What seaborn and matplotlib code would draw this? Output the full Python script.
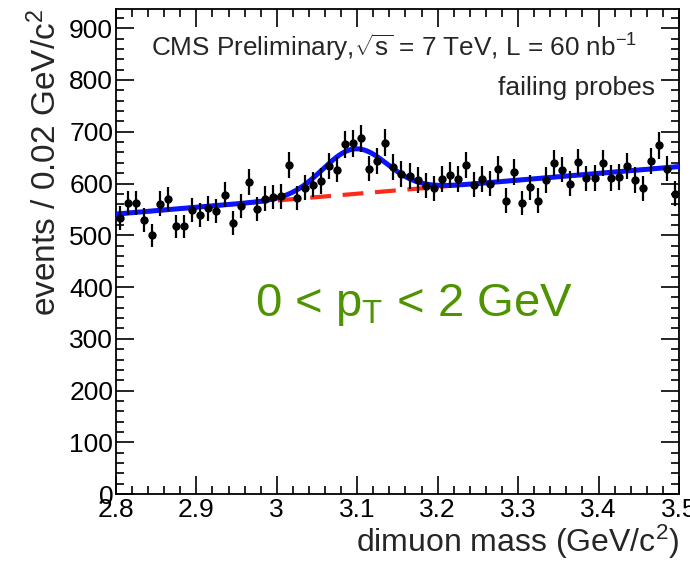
import numpy as np
import pandas as pd
import matplotlib
matplotlib.use("Agg")
import matplotlib.pyplot as plt
from matplotlib.ticker import MultipleLocator
import seaborn as sns

# ---- data ----
mass = [round(2.805 + 0.01 * i, 3) for i in range(70)]
events = [533, 562, 562, 530, 500, 561, 570, 517, 517, 549,
          539, 552, 547, 578, 524, 556, 603, 551, 571, 574,
          575, 636, 572, 592, 598, 605, 634, 627, 676, 678,
          687, 629, 644, 679, 632, 618, 614, 607, 596, 591,
          609, 616, 609, 636, 598, 609, 600, 628, 567, 622,
          562, 593, 567, 607, 640, 627, 600, 641, 610, 611,
          640, 611, 613, 633, 607, 591, 644, 674, 629, 580]
errors = list(np.sqrt(events))

# fit parameters (linear background + gaussian signal)
bg_at_28 = 541.0
bg_slope = 131.0
sig_amp = 87.0
sig_mean = 3.097
sig_width = 0.040

sns.set_style("ticks")
plt.rcParams["font.family"] = ["Liberation Sans", "DejaVu Sans"]
plt.rcParams["mathtext.fontset"] = "custom"
plt.rcParams["mathtext.rm"] = "Liberation Sans"
plt.rcParams["mathtext.it"] = "Liberation Sans:italic"

fig = plt.figure(figsize=(6.9, 5.66), dpi=100)
ax = fig.add_axes([0.168, 0.127, 0.816, 0.857])

xf = np.linspace(2.8, 3.5, 400)
bg = bg_at_28 + bg_slope * (xf - 2.8)
tot = bg + sig_amp * np.exp(-0.5 * ((xf - sig_mean) / sig_width) ** 2)
curves = pd.DataFrame({"x": xf, "bg": bg, "tot": tot})

sns.lineplot(data=curves, x="x", y="bg", ax=ax, color="#ff2a1a", lw=3,
             linestyle=(0, (5, 2.8)), zorder=2)
sns.lineplot(data=curves, x="x", y="tot", ax=ax, color="#0a14ff", lw=3.6, zorder=3)

df = pd.DataFrame({"mass": mass, "events": events, "err": errors})
ax.errorbar(df["mass"], df["events"], yerr=df["err"], fmt="none",
            ecolor="black", elinewidth=1.6, capsize=0, zorder=4)
sns.scatterplot(data=df, x="mass", y="events", ax=ax, color="black",
                s=36, edgecolor="black", linewidth=0, zorder=5)

ax.set_xlim(2.8, 3.5)
ax.set_ylim(0, 937)
ax.xaxis.set_major_locator(MultipleLocator(0.1))
ax.xaxis.set_minor_locator(MultipleLocator(0.02))
ax.yaxis.set_major_locator(MultipleLocator(100))
ax.yaxis.set_minor_locator(MultipleLocator(20))
ax.set_xticks([2.8, 2.9, 3.0, 3.1, 3.2, 3.3, 3.4, 3.5])
ax.set_xticklabels(["2.8", "2.9", "3", "3.1", "3.2", "3.3", "3.4", "3.5"])
ax.tick_params(which="both", direction="in", top=True, right=True,
               labelsize=19, width=1.2, colors="black")
ax.tick_params(which="major", length=13)
ax.tick_params(which="minor", length=6)
ax.tick_params(axis="x", pad=3)
ax.tick_params(axis="y", pad=2)
for s in ax.spines.values():
    s.set_linewidth(1.3)
    s.set_color("black")

ax.set_xlabel("dimuon mass (GeV/c$^{2}$)", fontsize=23, loc="right", labelpad=0)
ax.set_ylabel("events / 0.02 GeV/c$^{2}$", fontsize=24, loc="top", labelpad=4)

ax.text(0.062, 0.901, r"CMS Preliminary,$\sqrt{\mathrm{s}}$ = 7 TeV, L = 60 nb$^{-1}$",
        transform=ax.transAxes, fontsize=18.8, ha="left", va="baseline")
ax.text(0.958, 0.822, "failing probes", transform=ax.transAxes,
        fontsize=19, ha="right", va="baseline")
ax.text(0.53, 0.39, r"0 < p$_{\mathrm{T}}$ < 2 GeV", transform=ax.transAxes,
        fontsize=34, ha="center", va="center", color="#4f9300")

fig.savefig("out.png", dpi=100)
